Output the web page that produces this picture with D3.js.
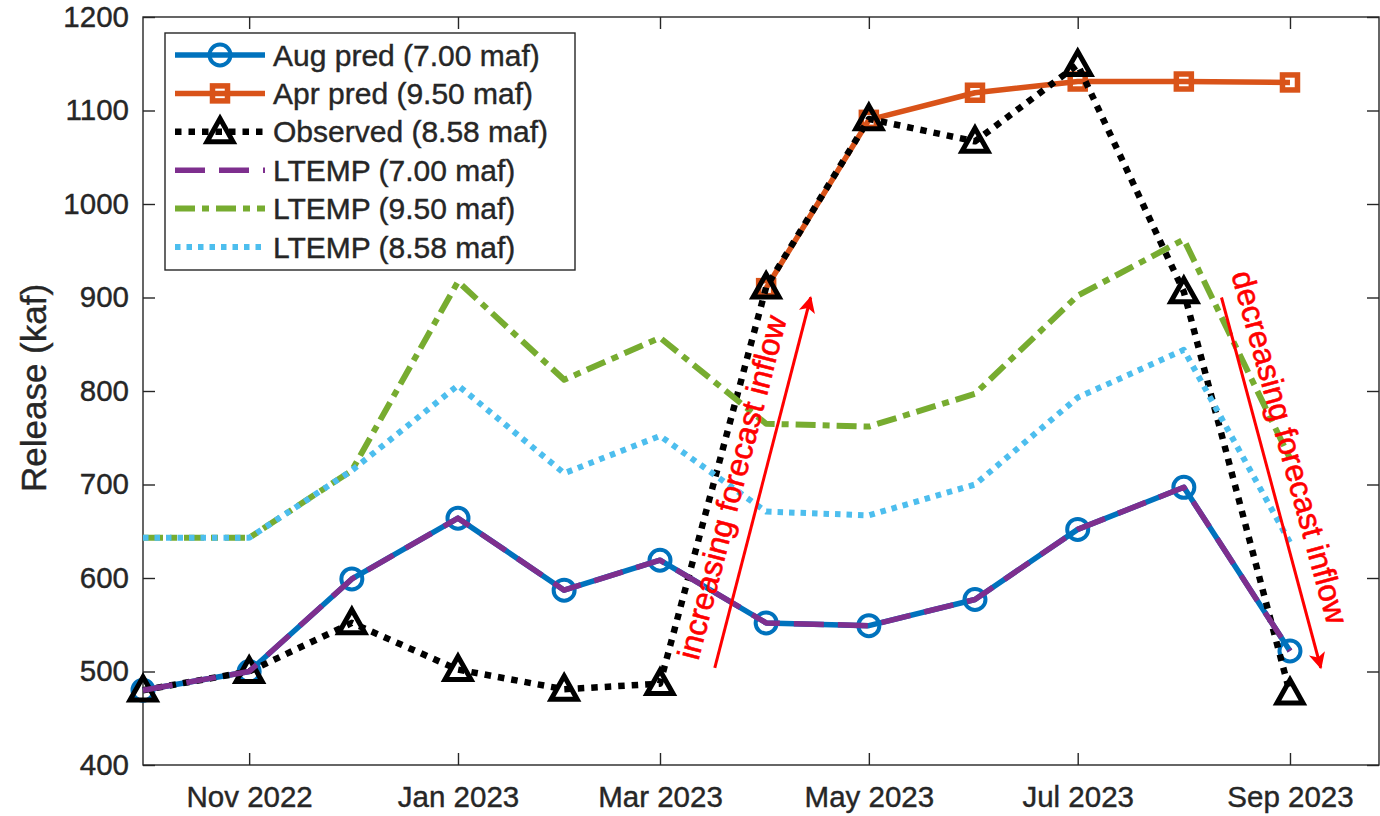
<!DOCTYPE html>
<html>
<head>
<meta charset="utf-8">
<script src="https://cdn.jsdelivr.net/npm/d3@7"></script>
<style>
  html, body { margin: 0; padding: 0; background: #fff; }
  svg { display: block; font-family: "Liberation Sans", Arial, Helvetica, sans-serif; }
</style>
</head>
<body>
<svg id="chart" width="1380" height="816"></svg>
<script>
// ---------- data ----------
const months = ["2022-10-01","2022-11-01","2022-12-01","2023-01-01","2023-02-01","2023-03-01",
                "2023-04-01","2023-05-01","2023-06-01","2023-07-01","2023-08-01","2023-09-01"];
const augPred   = [480, 500, 599, 664, 587, 619, 552, 549, 577, 652, 697, 522];
const aprPred   = [null, null, null, null, null, null, 910, 1090, 1119, 1131, 1131, 1130];
const observed  = [480, 500, 552, 502, 481, 487, 911, 1091, 1067, 1149, 906, 477];
const ltemp700  = [480, 500, 599, 664, 587, 619, 552, 549, 577, 652, 697, 522];
const ltemp950  = [643, 643, 715, 917, 812, 857, 765, 762, 797, 902, 962, 728];
const ltemp858  = [643, 643, 715, 806, 712, 752, 671, 667, 700, 793, 844, 638];
const yTicks    = [400, 500, 600, 700, 800, 900, 1000, 1100, 1200];
const legendLabels = ["Aug pred (7.00 maf)", "Apr pred (9.50 maf)", "Observed (8.58 maf)",
                      "LTEMP (7.00 maf)", "LTEMP (9.50 maf)", "LTEMP (8.58 maf)"];
// annotations: [date, value]
const incArrow = [["2023-03-17", 504], ["2023-04-14", 900]];
const decArrow = [["2023-08-12", 900], ["2023-09-10", 504]];
const incText = { date: "2023-03-22", value: 697, angle: -75.5, label: "increasing forecast inflow" };
const decText = { date: "2023-09-01", value: 740, angle: 74.7, label: "decreasing forecast inflow" };

// ---------- setup ----------
const parse = d3.timeParse("%Y-%m-%d");
const dates = months.map(parse);
const svg = d3.select("#chart");
const L = 143, R = 1379, T = 17, B = 765;
const axisColor = "#262626";

const x = d3.scaleTime().domain([parse("2022-10-01"), parse("2023-09-27")]).range([L, R]);
const y = d3.scaleLinear().domain([400, 1200]).range([B, T]);

// frame
svg.append("rect").attr("x", L).attr("y", T).attr("width", R - L).attr("height", B - T)
  .attr("fill", "#fff").attr("stroke", axisColor).attr("stroke-width", 1.4);

const xTickVals = d3.timeMonth.every(2).range(parse("2022-10-01"), parse("2023-09-28"));
const fontSize = 29.5;

// bottom axis
const gx = svg.append("g").attr("transform", `translate(0,${B})`)
  .call(d3.axisBottom(x).tickValues(xTickVals).tickFormat(d3.timeFormat("%b %Y"))
        .tickSizeInner(-12).tickSizeOuter(0).tickPadding(21));
// top axis ticks
const gxt = svg.append("g").attr("transform", `translate(0,${T})`)
  .call(d3.axisTop(x).tickValues(xTickVals).tickFormat("").tickSizeInner(-12).tickSizeOuter(0));
// left axis
const gy = svg.append("g").attr("transform", `translate(${L},0)`)
  .call(d3.axisLeft(y).tickValues(yTicks).tickFormat(d3.format("d"))
        .tickSizeInner(-12).tickSizeOuter(0).tickPadding(14));
// right axis ticks
const gyr = svg.append("g").attr("transform", `translate(${R},0)`)
  .call(d3.axisRight(y).tickValues(yTicks).tickFormat("").tickSizeInner(-12).tickSizeOuter(0));

[gx, gxt, gy, gyr].forEach(g => {
  g.select(".domain").remove();
  g.selectAll(".tick line").attr("stroke", axisColor).attr("stroke-width", 1.4);
  g.selectAll(".tick text").attr("fill", axisColor).attr("stroke", axisColor).attr("stroke-width", 0.4)
    .style("font-size", fontSize + "px")
    .style("font-family", '"Liberation Sans", Arial, Helvetica, sans-serif');
});

// y label
svg.append("text").attr("transform", `translate(46,${(T + B) / 2 - 3}) rotate(-90)`)
  .attr("text-anchor", "middle").attr("fill", axisColor).attr("stroke", axisColor).attr("stroke-width", 0.4)
  .style("font-size", "35px").text("Release (kaf)");

// ---------- series ----------
const C = {
  blue: "#0072BD", orange: "#D95319", black: "#000000",
  purple: "#7E2F8E", green: "#77AC30", cyan: "#4DBEEE", red: "#FF0000"
};

const series = [
  { vals: augPred,  color: C.blue,   width: 5.5, dash: null, marker: "circle" },
  { vals: aprPred,  color: C.orange, width: 5.5, dash: null, marker: "square" },
  { vals: observed, color: C.black,  width: 6.5, dash: "6.5,7", marker: "triangle" },
  { vals: ltemp700, color: C.purple, width: 5.5, dash: "30,14", marker: null },
  { vals: ltemp950, color: C.green,  width: 6, dash: "20,7,7,7", marker: null },
  { vals: ltemp858, color: C.cyan,   width: 6, dash: "5.5,6", marker: null }
];

const line = d3.line()
  .defined(d => d.v != null)
  .x(d => x(d.d)).y(d => y(d.v));

function drawMarker(g, type, color, cx, cy) {
  if (type === "circle") {
    g.append("circle").attr("cx", cx).attr("cy", cy).attr("r", 10.5)
      .attr("fill", "none").attr("stroke", color).attr("stroke-width", 4);
  } else if (type === "square") {
    g.append("rect").attr("x", cx - 7.5).attr("y", cy - 7.5).attr("width", 15).attr("height", 15)
      .attr("fill", "none").attr("stroke", color).attr("stroke-width", 5.5);
  } else if (type === "triangle") {
    const h = 22, w = 26;
    g.append("path")
      .attr("d", `M${cx},${cy - h * 0.6} L${cx + w / 2},${cy + h * 0.45} L${cx - w / 2},${cy + h * 0.45} Z`)
      .attr("fill", "none").attr("stroke", color).attr("stroke-width", 5).attr("stroke-linejoin", "miter");
  }
}

const plotG = svg.append("g");
series.forEach(s => {
  const pts = dates.map((d, i) => ({ d, v: s.vals[i] }));
  const p = plotG.append("path").datum(pts).attr("d", line)
    .attr("fill", "none").attr("stroke", s.color).attr("stroke-width", s.width)
    .attr("stroke-linejoin", "round");
  if (s.dash) p.attr("stroke-dasharray", s.dash).attr("stroke-linecap", "butt");
  if (s.marker) {
    pts.filter(q => q.v != null).forEach(q => drawMarker(plotG, s.marker, s.color, x(q.d), y(q.v)));
  }
});

// ---------- annotations ----------
svg.append("defs").append("marker").attr("id", "arrowhead")
  .attr("viewBox", "0 0 10 10").attr("refX", 9).attr("refY", 5)
  .attr("markerWidth", 7).attr("markerHeight", 5.5).attr("markerUnits", "strokeWidth")
  .attr("orient", "auto")
  .append("path").attr("d", "M0,0 L10,5 L0,10 L2.5,5 Z").attr("fill", C.red);

[incArrow, decArrow].forEach(a => {
  svg.append("line")
    .attr("x1", x(parse(a[0][0]))).attr("y1", y(a[0][1]))
    .attr("x2", x(parse(a[1][0]))).attr("y2", y(a[1][1]))
    .attr("stroke", C.red).attr("stroke-width", 3).attr("marker-end", "url(#arrowhead)");
});
[incText, decText].forEach(t => {
  const tx = x(parse(t.date)), ty = y(t.value);
  svg.append("text").attr("transform", `translate(${tx},${ty}) rotate(${t.angle})`)
    .attr("text-anchor", "middle").attr("dominant-baseline", "central")
    .attr("fill", C.red).attr("stroke", C.red).attr("stroke-width", 0.6)
    .style("font-size", "31.5px").text(t.label);
});

// ---------- legend ----------
const lg = svg.append("g");
const lgX = 165, lgY = 33, lgW = 410, lgH = 237;
lg.append("rect").attr("x", lgX).attr("y", lgY).attr("width", lgW).attr("height", lgH)
  .attr("fill", "#fff").attr("stroke", axisColor).attr("stroke-width", 1.4);
const rowY = d3.scaleLinear().domain([0, 5]).range([lgY + 22, lgY + 214]);
series.forEach((s, i) => {
  const yy = rowY(i);
  const l = lg.append("line").attr("x1", lgX + 10).attr("x2", lgX + 100).attr("y1", yy).attr("y2", yy)
    .attr("stroke", s.color).attr("stroke-width", s.width);
  if (s.dash) l.attr("stroke-dasharray", s.dash);
  if (s.marker) drawMarker(lg, s.marker, s.color, lgX + 55, yy);
  lg.append("text").attr("x", lgX + 108).attr("y", yy).attr("dominant-baseline", "central")
    .attr("fill", axisColor).attr("stroke", axisColor).attr("stroke-width", 0.4)
    .style("font-size", "30px").text(legendLabels[i]);
});
</script>
</body>
</html>
